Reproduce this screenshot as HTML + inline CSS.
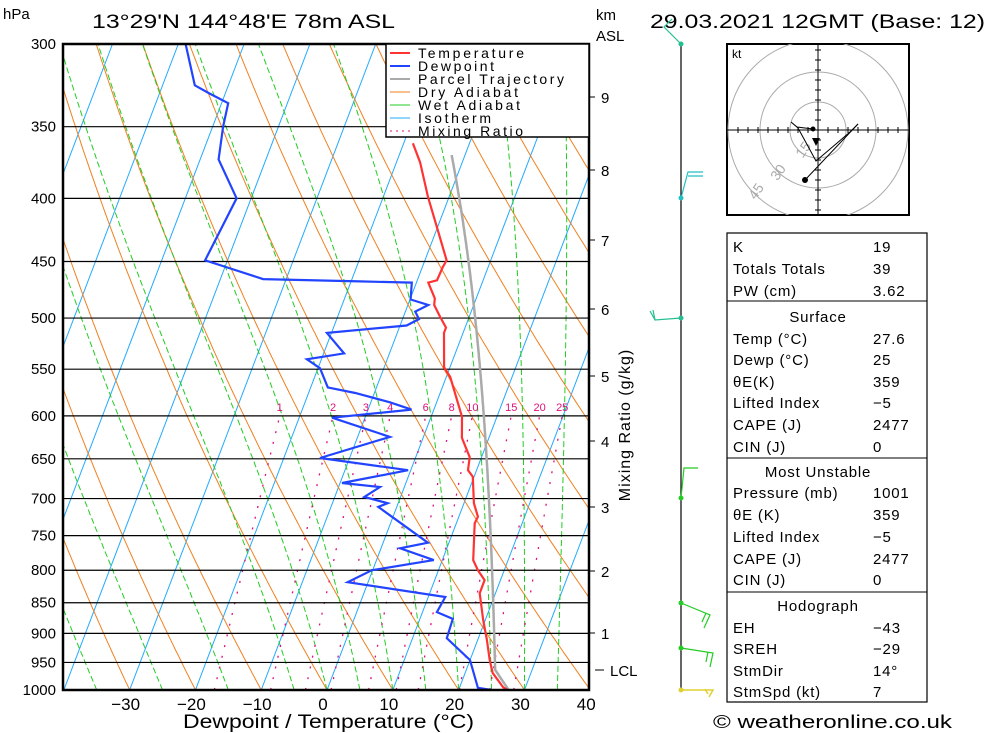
<!DOCTYPE html>
<html><head><meta charset="utf-8"><style>
html,body{margin:0;padding:0;background:#fff;}
svg{display:block;font-family:"Liberation Sans",sans-serif;}
</style></head><body>
<svg id="chart" width="1000" height="733" viewBox="0 0 1000 733" xmlns="http://www.w3.org/2000/svg">
<defs><clipPath id="plotclip"><rect x="63" y="44" width="526" height="646"/></clipPath><clipPath id="hc"><rect x="727" y="44" width="182" height="171"/></clipPath></defs>
<rect x="0" y="0" width="1000" height="733" fill="#fff"/>
<g id="bg" clip-path="url(#plotclip)"></g>
<g id="plines"></g>
<g id="profiles" clip-path="url(#plotclip)"></g>
<g id="axes"></g>
<text x="3" y="19" font-size="15">hPa</text>
<text x="92" y="28" font-size="19" textLength="303" lengthAdjust="spacingAndGlyphs">13°29'N  144°48'E  78m ASL</text>
<text x="650" y="28" font-size="19" textLength="335" lengthAdjust="spacingAndGlyphs">29.03.2021  12GMT  (Base: 12)</text>
<text x="596" y="20" font-size="15">km</text>
<text x="596" y="41" font-size="15">ASL</text>
<text x="183" y="728" font-size="19" textLength="291" lengthAdjust="spacingAndGlyphs">Dewpoint / Temperature (°C)</text>
<text transform="translate(630,425) rotate(-90)" font-size="16" text-anchor="middle" letter-spacing="1">Mixing Ratio (g/kg)</text>
<g>
<rect x="386" y="44" width="203" height="93" fill="#fff" stroke="#000" stroke-width="1.5"/>
<line x1="390" y1="53" x2="410" y2="53" stroke="#ff3333" stroke-width="2"/><text x="418" y="58" font-size="14" textLength="106">Temperature</text>
<line x1="390" y1="66" x2="410" y2="66" stroke="#2244ff" stroke-width="2"/><text x="418" y="71" font-size="14" textLength="76">Dewpoint</text>
<line x1="390" y1="79" x2="410" y2="79" stroke="#aaa" stroke-width="2"/><text x="418" y="84" font-size="14" textLength="146">Parcel Trajectory</text>
<line x1="390" y1="92" x2="410" y2="92" stroke="#f08020" stroke-width="1"/><text x="418" y="97" font-size="14" textLength="100">Dry Adiabat</text>
<line x1="390" y1="105" x2="410" y2="105" stroke="#22cc22" stroke-width="1"/><text x="418" y="110" font-size="14" textLength="102">Wet Adiabat</text>
<line x1="390" y1="118" x2="410" y2="118" stroke="#22aaff" stroke-width="1"/><text x="418" y="123" font-size="14" textLength="73">Isotherm</text>
<line x1="390" y1="131" x2="410" y2="131" stroke="#e0107a" stroke-width="1" stroke-dasharray="2,4"/><text x="418" y="136" font-size="14" textLength="105">Mixing Ratio</text>
</g>
<g id="wind">
<line x1="681" y1="44" x2="681" y2="690" stroke="#000" stroke-width="1.2"/>
<polyline points="681,44 664,27 672,19" fill="none" stroke="#22c090" stroke-width="1.2"/><circle cx="681" cy="44" r="2.5" fill="#22c090"/>
<path d="M681,198 L688,172 L703,172 M688,176 L703,176" fill="none" stroke="#22c0c0" stroke-width="1.2"/><circle cx="681" cy="198" r="2.5" fill="#22c0c0"/>
<path d="M681,318 L655,320 L653,310 M655,320 L650,311" fill="none" stroke="#22c090" stroke-width="1.2"/><circle cx="681" cy="318" r="2.5" fill="#22c090"/>
<path d="M681,498 L684,468 L698,468" fill="none" stroke="#22cc22" stroke-width="1.2"/><circle cx="681" cy="498" r="2.5" fill="#22cc22"/>
<path d="M681,603 L710,615 L704,628 M706,613 L702,622" fill="none" stroke="#22cc22" stroke-width="1.2"/><circle cx="681" cy="603" r="2.5" fill="#22cc22"/>
<path d="M681,648 L713,653 L710,667 M708,652 L706,662" fill="none" stroke="#22cc22" stroke-width="1.2"/><circle cx="681" cy="648" r="2.5" fill="#22cc22"/>
<path d="M681,690 L713,690 L709,697 M705,689 L708,694" fill="none" stroke="#e0d030" stroke-width="1.5"/><circle cx="681" cy="690" r="2.5" fill="#e0d030"/>
</g>
<g id="hodo">
<rect x="727" y="44" width="182" height="171" fill="#fff" stroke="#000" stroke-width="2"/>
<g clip-path="url(#hc)">
<circle cx="818" cy="130" r="28" fill="none" stroke="#aaa"/>
<circle cx="818" cy="130" r="58" fill="none" stroke="#aaa"/>
<circle cx="818" cy="130" r="90" fill="none" stroke="#aaa"/>
</g>
<line x1="727" y1="130" x2="909" y2="130" stroke="#000"/>
<line x1="818" y1="44" x2="818" y2="215" stroke="#000"/>
<g id="hticks" stroke="#000"></g>
<text x="732" y="58" font-size="12">kt</text>
<text x="796" y="158" font-size="14" fill="#aaa" transform="rotate(-55 800 152)">15</text>
<text x="770" y="179" font-size="14" fill="#aaa" transform="rotate(-55 776 173)">30</text>
<text x="748" y="198" font-size="14" fill="#aaa" transform="rotate(-55 754 192)">45</text>
<polyline points="813,129 797,127 791,122 798,128 816,161 850,132 858,124" fill="none" stroke="#000"/>
<polyline points="805,180 858,124" fill="none" stroke="#000"/>
<path d="M812,138 L820,138 L816,146 Z" fill="#000"/><circle cx="813" cy="129" r="2.5" fill="#000"/><circle cx="805" cy="180" r="3" fill="#000"/>
</g>
<g id="table" font-size="15">
<rect x="727" y="233" width="200" height="469" fill="none" stroke="#000" stroke-width="1.2"/>
<line x1="727" y1="301" x2="927" y2="301" stroke="#000"/><line x1="727" y1="458" x2="927" y2="458" stroke="#000"/><line x1="727" y1="592" x2="927" y2="592" stroke="#000"/>
</g>
<text x="713" y="728" font-size="18" textLength="239" lengthAdjust="spacingAndGlyphs">© weatheronline.co.uk</text>
<script>
const tempP=[361,374,399,422,449,455,466,468,482,488,499,509,514,548,558,601,625,648,664,672,706,724,733,785,800,815,835,878,911,946,969,995,1000];
const tempT=[-18.6,-16.4,-13.2,-10.1,-6.7,-6.9,-7.0,-8.2,-6.3,-6.0,-4.4,-2.9,-2.9,-0.9,0.6,4.7,5.9,8.2,8.7,9.8,11.5,12.9,12.8,14.7,16.0,17.6,17.6,19.7,21.4,23.0,24.2,26.6,27.4];
const dewP=[300,324,329,335,350,372,400,449,455,465,467,468,483,488,494,501,507,514,534,540,549,569,575,585,593,602,624,649,664,680,685,698,706,711,760,768,785,800,818,841,865,876,908,946,996,1000];
const dewT=[-58.9,-55.1,-52.4,-49.0,-48.4,-47.2,-42.2,-43.4,-39.6,-33.5,-18.7,-10.7,-9.9,-6.9,-8.5,-7.5,-9.0,-20.7,-16.9,-22.2,-19.7,-17.4,-12.9,-7.1,-3.4,-15.0,-5.1,-14.5,-0.4,-9.7,-3.7,-5.5,-1.6,-2.8,6.8,2.9,8.7,-0.1,-3.1,12.6,12.2,15.0,15.2,20.0,22.8,25.0];
const surfT=27.6, lclP=963, parcelTop=370;
const pLevels=[300,350,400,450,500,550,600,650,700,750,800,850,900,950,1000];
const xTicks=[-30,-20,-10,0,10,20,30,40];
const kmLevels=[1,2,3,4,5,6,7,8,9];
const kmY=[633,571,507,441,376,309,240,170,97];
const isoT=[];for(let t=-110;t<=40;t+=10)isoT.push(t);
const dryTh=[];for(let t=-40;t<=160;t+=10)dryTh.push(t);
const wetT=[-35,-25,-15,-5,0,5,10,15,20,25,30,35,40];
const mixW=[1,2,3,4,6,8,10,15,20,25];
const mixLab=["1","2","3","4","6","8","10","15","20","25"];
const tableRows=[["K","19",246],["Totals Totals","39",268],["PW (cm)","3.62",290],
["Temp (°C)","27.6",338],["Dewp (°C)","25",359],["θE(K)","359",381],["Lifted Index","−5",402],["CAPE (J)","2477",424],["CIN (J)","0",446],
["Pressure (mb)","1001",492],["θE (K)","359",514],["Lifted Index","−5",536],["CAPE (J)","2477",558],["CIN (J)","0",579],
["EH","−43",627],["SREH","−29",648],["StmDir","14°",670],["StmSpd (kt)","7",691]];
const tableHeads=[["Surface",316],["Most Unstable",471],["Hodograph",605]];

const NS="http://www.w3.org/2000/svg";
function yP(p){return 44+536.5*Math.log(p/300);}
function xT(t,p){return 327+6.58*t+0.381*(690-yP(p));}
function mk(tag,attrs,parent){const e=document.createElementNS(NS,tag);for(const k in attrs)e.setAttribute(k,attrs[k]);parent.appendChild(e);return e;}
function es(t){return 6.112*Math.exp(17.67*t/(t+243.5));}
function ptsStr(P,T){return P.map((p,i)=>xT(T[i],p).toFixed(1)+","+yP(p).toFixed(1)).join(" ");}
function moist(t0,p0,pEnd){const P=[p0],T=[t0];let t=t0+273.15,p=p0;while(p>pEnd){const rs=0.622*es(t-273.15)/(p-es(t-273.15));const d=(287*t+2.5e6*rs)/(p*(1005+2.5e6*2.5e6*rs*0.622/(287*t*t)));const dp=-2;t+=d*dp;p+=dp;P.push(p);T.push(t-273.15);}return [P,T];}
const bg=document.getElementById('bg');
const prs=[];for(let p=1000;p>=300;p-=5)prs.push(p);
isoT.forEach(t=>{const l=mk('line',{x1:xT(t,1000),y1:690,x2:xT(t,300),y2:44,stroke:'#22aaff','stroke-width':1},bg);

});
dryTh.forEach(th=>{const T=prs.map(p=>(th+273.15)*Math.pow(p/1000,0.286)-273.15);const l=mk('polyline',{points:ptsStr(prs,T),fill:'none',stroke:'#f08020','stroke-width':1},bg);

});
wetT.forEach(t0=>{const r=moist(t0,1000,300);const l=mk('polyline',{points:ptsStr(r[0],r[1]),fill:'none',stroke:'#22cc22','stroke-width':1,'stroke-dasharray':'6,3'},bg);

});
const mp=[];for(let p=1000;p>=600;p-=10)mp.push(p);
mixW.forEach((w,i)=>{const T=mp.map(p=>{const e=w*p/(622+w);const a=Math.log(e/6.112);return 243.5*a/(17.67-a);});
const l=mk('polyline',{points:ptsStr(mp,T),fill:'none',stroke:'#e0107a','stroke-width':1.3,'stroke-dasharray':'2,9'},bg);


const tx=mk('text',{x:xT(T[T.length-1],600),y:411,'font-size':11,fill:'#e0107a','text-anchor':'middle'},bg);tx.textContent=mixLab[i];

});
const pl=document.getElementById('plines');
pLevels.forEach(p=>{const y=yP(p);const l=mk('line',{x1:63,y1:y,x2:589,y2:y,stroke:'#000','stroke-width':1.2},pl);


const t=mk('text',{x:56,y:y+5,'font-size':15,'text-anchor':'end'},pl);t.textContent=p;

});
const pr=document.getElementById('profiles');
const lclT=(surfT+273.15)*Math.pow(lclP/1000,0.286)-273.15;
const mr=moist(lclT,lclP,parcelTop);
const parP=[1000].concat(mr[0]),parT=[surfT].concat(mr[1]);
const par=mk('polyline',{points:ptsStr(parP,parT),fill:'none',stroke:'#aaa','stroke-width':2.5},pr);


const tl=mk('polyline',{points:ptsStr(tempP,tempT),fill:'none',stroke:'#ff3333','stroke-width':2.2},pr);


const dl=mk('polyline',{points:ptsStr(dewP,dewT),fill:'none',stroke:'#2244ff','stroke-width':2.2},pr);


const ax=document.getElementById('axes');
mk('rect',{x:63,y:44,width:526,height:646,fill:'none',stroke:'#000','stroke-width':2.5},ax);
xTicks.forEach(t=>{const tx=mk('text',{x:xT(t,1000)-4,y:710,'font-size':17,'text-anchor':'middle'},ax);tx.textContent=(t<0?'−':'')+Math.abs(t);

});
kmLevels.forEach((k,i)=>{mk('line',{x1:589,y1:kmY[i],x2:595,y2:kmY[i],stroke:'#000'},ax);const t=mk('text',{x:601,y:kmY[i]+6,'font-size':15},ax);t.textContent=k;

});
mk('line',{x1:595,y1:670,x2:604,y2:670,stroke:'#000'},ax);
const lt=mk('text',{x:610,y:676,'font-size':15},ax);lt.textContent='LCL';


const ht=document.getElementById('hticks');
for(let i=-8;i<=8;i++){if(i===0)continue;mk('line',{x1:818+i*10,y1:127,x2:818+i*10,y2:133},ht);mk('line',{x1:815,y1:130+i*10,x2:821,y2:130+i*10},ht);}
const tb=document.getElementById('table');
tableRows.forEach(r=>{const a=mk('text',{x:733,y:r[2]+6,'letter-spacing':0.8},tb);a.textContent=r[0];


const b=mk('text',{x:873,y:r[2]+6,'letter-spacing':0.8},tb);b.textContent=r[1];

});
tableHeads.forEach(h=>{const a=mk('text',{x:818,y:h[1]+6,'text-anchor':'middle','letter-spacing':0.8},tb);a.textContent=h[0];

});
</script>
</svg>
</body></html>
